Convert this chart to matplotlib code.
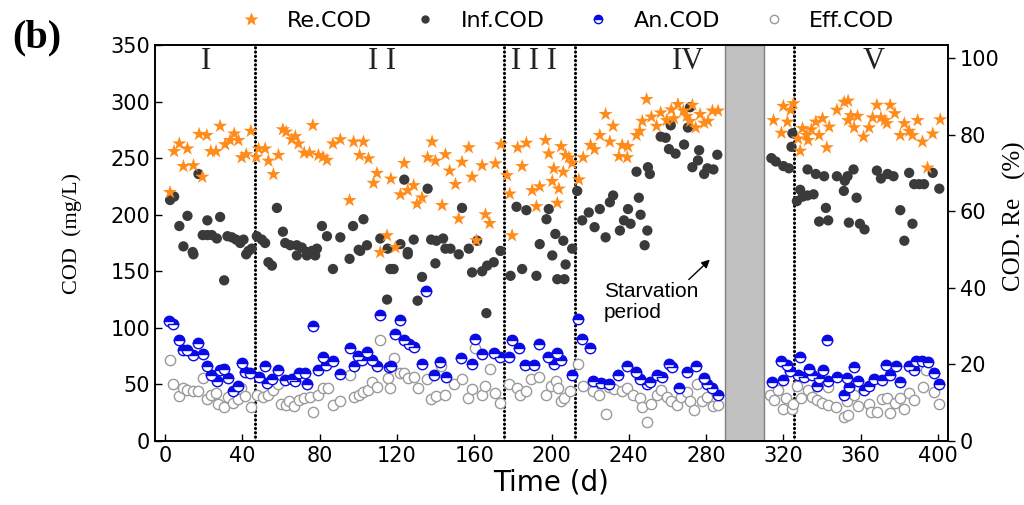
import numpy as np
import matplotlib
matplotlib.use("Agg")
import matplotlib.pyplot as plt
from matplotlib.lines import Line2D

# --- data ---
# Re.COD (%), right axis
re_day = [2.6, 4.7, 7.4, 9.5, 11.6, 14.7, 17.6, 19.3, 21.6, 23.7, 26.4, 28.5, 31.1, 33.7, 35.8,
          38.0, 39.7, 42.0, 44.4, 47.2, 48.4, 51.8, 53.5, 56.1, 58.7, 61.0, 62.7, 65.6, 67.4, 69.1,
          72.0, 74.8, 76.5, 79.4, 81.7, 83.8, 86.9, 90.7, 95.5, 97.6, 100.7, 102.7, 105.3, 107.9, 109.7,
          111.4, 114.9, 116.9, 119.2, 121.8, 123.8, 125.6, 128.7, 130.4, 133.0, 135.9, 138.2, 139.9, 143.4, 145.1,
          147.3, 150.3, 152.0, 153.7, 157.2, 158.9, 161.1, 164.1, 165.8, 168.0, 171.0, 173.9, 177.0, 178.4, 179.6,
          182.5, 184.8, 187.0, 190.0, 192.2, 193.9, 196.9, 198.6, 200.4, 201.2, 203.0, 203.8, 205.0, 206.1, 207.3,
          209.0, 210.7, 214.2, 216.4, 220.2, 222.3, 225.0, 228.0, 230.2, 231.9, 234.9, 236.6, 239.2, 239.6, 244.0,
          245.7, 247.0, 249.2, 251.7, 254.4, 256.5, 259.6, 262.0, 263.4, 265.4, 268.2, 270.0, 271.7, 272.9, 274.6,
          276.9, 279.0, 281.0, 283.3, 286.2, 314.9, 319.0, 320.0, 322.1, 323.8, 325.2, 327.6, 328.7, 329.9, 332.1,
          332.8, 334.5, 336.8, 338.5, 340.3, 342.5, 343.7, 347.7, 351.5, 353.5, 353.5, 354.9, 356.6, 358.4, 361.5,
          364.4, 366.2, 368.4, 370.5, 372.5, 373.6, 375.3, 377.7, 380.5, 382.6, 385.1, 386.8, 389.5, 392.0, 394.6,
          397.3, 401.2]
re_pct = [65.0, 75.7, 77.7, 71.8, 76.4, 72.0, 80.2, 69.0, 79.9, 75.7, 75.7, 82.3, 77.5, 78.6, 80.3,
          78.6, 74.1, 74.9, 81.0, 74.2, 76.4, 76.4, 73.2, 69.7, 74.7, 81.4, 80.8, 78.8, 79.6, 77.7,
          75.3, 75.3, 82.5, 74.7, 74.2, 73.4, 77.7, 78.8, 62.9, 78.2, 74.7, 78.2, 73.8, 67.4, 70.0,
          49.3, 53.7, 68.5, 50.6, 64.4, 72.6, 65.5, 66.8, 62.0, 63.6, 74.1, 78.2, 73.2, 61.6, 74.9,
          70.6, 67.1, 58.1, 72.9, 76.7, 69.0, 52.4, 72.0, 59.2, 56.9, 72.5, 77.5, 69.4, 64.6, 53.7,
          76.7, 71.8, 77.9, 65.5, 61.3, 66.5, 78.6, 75.1, 67.9, 71.2, 62.2, 65.9, 77.0, 70.3, 74.7,
          74.1, 72.6, 68.3, 74.1, 77.3, 76.2, 79.9, 85.4, 78.2, 82.3, 74.4, 77.3, 74.1, 77.0, 79.9,
          81.0, 83.6, 89.3, 84.7, 82.3, 85.8, 83.8, 86.6, 84.3, 88.0, 86.3, 84.9, 83.6, 87.8, 81.9,
          85.4, 83.1, 83.6, 86.3, 86.3, 83.8, 80.5, 87.5, 83.4, 86.5, 88.2, 79.0, 75.8, 81.7, 79.9,
          78.6, 81.4, 83.4, 79.9, 84.3, 76.7, 82.1, 86.5, 88.6, 88.9, 83.8, 85.1, 81.9, 84.9, 79.5,
          81.9, 84.5, 87.8, 84.5, 83.8, 83.0, 87.8, 85.6, 79.9, 83.0, 81.0, 79.9, 83.8, 78.2, 71.4,
          80.3, 84.0]

# Inf.COD (mg/L)
inf_day = [2.6, 4.7, 17.3, 7.4, 11.6, 9.5, 14.3, 19.5, 21.9, 21.9, 24.2, 26.8, 28.5, 32.3, 34.6,
           36.8, 38.9, 40.6, 43.2, 44.9, 47.5, 50.1, 51.8, 57.9, 61.0, 62.2, 64.8, 68.2, 70.8, 73.4,
           76.0, 78.6, 81.2, 83.8, 90.7, 97.3, 100.2, 102.7, 104.5, 111.4, 115.2, 121.8, 123.8, 125.6, 128.7,
           135.9, 137.7, 140.4, 145.1, 14.7, 30.6, 42.0, 53.5, 55.3, 68.2, 73.4, 77.7, 86.9, 95.5,
           101.0, 116.6, 118.3, 114.9, 133.0, 130.7, 125.6, 139.9, 153.7, 143.9, 147.7, 152.0, 157.2, 161.5, 173.6,
           181.9, 187.0, 197.4, 198.6, 193.9, 202.0, 206.1, 210.7, 213.3, 215.9, 219.3, 222.3, 225.0, 228.0, 230.2,
           231.9, 235.4, 237.5, 239.6, 240.9, 245.2, 246.1, 249.6, 248.2, 244.0, 249.9, 250.9, 256.5, 259.1, 261.7,
           260.8, 264.2, 268.6, 271.7, 270.6, 272.9, 276.4, 275.8, 279.0, 280.7, 283.8, 285.8, 158.9, 164.1, 166.7,
           170.1, 178.8, 184.8, 192.2, 203.0, 206.7, 166.3, 200.4, 207.3, 313.8, 316.1, 320.0, 322.9, 324.7, 324.2,
           328.7, 327.0, 330.0, 332.5, 335.6, 332.5, 336.8, 341.1, 342.0, 338.5, 343.2, 347.7, 351.8, 353.2, 356.3,
           351.3, 357.9, 353.9, 359.6, 362.0, 368.4, 370.5, 373.9, 377.0, 380.5, 382.6, 385.1, 387.7, 390.3, 392.8,
           386.8, 397.3, 400.7]
inf_cod = [213, 216, 236, 190, 199, 172, 167, 182, 195, 182, 182, 179, 198, 181, 180,
           178, 175, 178, 168, 170, 181, 178, 175, 206, 185, 175, 173, 173, 171, 167,
           168, 170, 190, 181, 180, 190, 169, 196, 173, 179, 170, 174, 231, 167, 178,
           223, 178, 177, 170, 165, 142, 165, 158, 155, 164, 164, 164, 152, 161,
           168, 152, 152, 125, 145, 124, 165, 157, 206, 179, 170, 165, 170, 177, 168,
           207, 204, 196, 205, 174, 183, 177, 170, 221, 195, 202, 189, 205, 180, 211,
           217, 186, 195, 205, 192, 215, 200, 186, 173, 238, 242, 236, 269, 268, 279,
           258, 254, 262, 295, 277, 242, 257, 248, 236, 241, 240, 253, 149, 150, 155,
           158, 146, 152, 146, 143, 143, 113, 164, 156, 250, 247, 243, 241, 272, 260,
           222, 212, 216, 217, 218, 240, 236, 234, 206, 194, 195, 234, 230, 234, 240,
           221, 215, 193, 192, 187, 239, 232, 236, 234, 204, 177, 237, 227, 227, 227,
           192, 237, 223]

# An.COD (mg/L)
an_day = [2.2, 4.3, 7.4, 9.2, 11.6, 14.3, 17.3, 19.5, 21.6, 23.7, 26.8, 28.5, 30.6, 32.8, 35.4,
          37.5, 39.7, 41.5, 44.0, 48.4, 51.8, 53.0, 55.3, 58.7, 62.2, 65.6, 67.4, 69.1, 72.5, 73.7,
          76.5, 79.4, 81.7, 83.4, 86.9, 90.7, 95.5, 97.6, 99.7, 101.9, 104.5, 107.1, 109.7, 111.0, 115.7,
          116.9, 119.2, 121.8, 123.8, 126.1, 128.7, 135.2, 133.0, 139.0, 142.5, 145.6, 153.2, 158.9, 160.6, 164.1,
          170.5, 173.3, 178.0, 179.6, 183.1, 186.5, 191.2, 193.4, 198.1, 203.0, 201.2, 204.7, 210.7, 213.6, 215.9,
          219.9, 221.6, 225.4, 229.7, 234.4, 239.2, 243.5, 245.7, 249.2, 250.9, 254.7, 257.3, 260.8, 262.5, 266.0,
          270.3, 274.6, 279.0, 280.7, 283.3, 286.2, 314.3, 320.0, 319.0, 322.1, 323.5, 328.7, 327.6, 330.7, 333.3,
          335.0, 337.2, 338.5, 340.3, 342.8, 343.2, 347.7, 352.8, 351.5, 354.1, 356.3, 358.4, 361.5, 364.4, 367.0,
          371.3, 373.1, 375.3, 378.2, 380.5, 385.1, 387.4, 388.6, 392.0, 394.9, 397.7, 400.7]
an_cod = [106, 103, 89, 80, 80, 76, 87, 77, 66, 58, 53, 63, 64, 56, 44,
          49, 69, 61, 60, 57, 66, 51, 55, 63, 54, 55, 53, 60, 60, 50,
          102, 63, 74, 67, 71, 59, 82, 66, 75, 72, 79, 72, 66, 111, 65,
          66, 95, 107, 89, 86, 83, 133, 68, 58, 70, 57, 73, 68, 90, 77,
          78, 74, 74, 89, 82, 67, 67, 86, 74, 78, 68, 72, 58, 108, 90,
          82, 53, 51, 50, 58, 66, 61, 55, 50, 52, 58, 57, 68, 65, 47,
          61, 66, 56, 50, 47, 41, 52, 54, 71, 67, 62, 74, 58, 57, 64,
          58, 49, 56, 63, 89, 53, 57, 56, 41, 48, 65, 53, 45, 49, 55,
          54, 67, 58, 66, 52, 66, 63, 71, 71, 70, 60, 50]

# Eff.COD (mg/L)
eff_day = [2.6, 4.3, 7.4, 9.5, 11.6, 14.3, 17.3, 19.5, 21.9, 23.7, 26.4, 27.6, 30.6, 32.8, 35.1,
           37.5, 39.2, 41.5, 44.4, 47.5, 50.9, 53.5, 55.8, 58.7, 59.9, 62.7, 64.4, 66.8, 69.1, 71.7,
           74.8, 76.5, 79.4, 82.0, 84.1, 86.9, 90.7, 95.5, 97.6, 100.2, 102.7, 104.8, 107.1, 111.0, 109.7,
           115.2, 116.6, 118.7, 121.5, 123.8, 125.6, 128.7, 130.7, 135.5, 137.6, 140.4, 142.8, 145.1, 149.7, 153.7,
           156.6, 158.9, 160.6, 164.1, 165.8, 168.0, 171.0, 173.6, 178.0, 182.2, 183.9, 187.0, 189.5, 193.4, 196.9,
           199.5, 202.1, 203.3, 205.1, 206.7, 209.5, 213.6, 216.4, 221.6, 224.5, 228.0, 229.7, 232.6, 236.6, 239.2,
           242.3, 245.7, 247.0, 249.2, 251.7, 254.4, 256.8, 259.6, 262.0, 265.1, 267.2, 270.0, 271.7, 273.5, 275.5,
           278.1, 280.7, 283.8, 286.2, 313.1, 315.2, 317.3, 320.0, 321.2, 324.7, 325.2, 327.2, 329.3, 332.5, 335.0,
           337.2, 340.2, 343.2, 343.2, 347.2, 351.5, 353.5, 352.8, 356.3, 358.4, 364.4, 365.6, 368.4, 371.3, 373.6,
           375.3, 377.7, 380.5, 382.6, 385.1, 387.7, 392.5, 393.8, 397.7, 400.7]
eff_cod = [72, 50, 40, 47, 45, 44, 44, 56, 37, 41, 42, 33, 30, 39, 34,
           37, 47, 40, 30, 41, 39, 41, 45, 50, 33, 32, 35, 31, 36, 38,
           39, 26, 41, 47, 47, 32, 35, 58, 39, 41, 43, 45, 52, 89, 48,
           56, 47, 73, 60, 60, 56, 57, 47, 55, 37, 40, 66, 41, 50, 55,
           38, 46, 82, 41, 49, 64, 42, 34, 50, 47, 41, 44, 55, 57, 41,
           49, 53, 47, 35, 38, 44, 68, 49, 44, 41, 24, 48, 46, 44, 47,
           41, 38, 30, 17, 33, 41, 45, 39, 35, 32, 39, 43, 35, 27, 50,
           35, 39, 31, 32, 41, 36, 45, 28, 38, 28, 33, 49, 38, 45, 39,
           36, 34, 48, 32, 30, 21, 23, 35, 41, 31, 33, 26, 26, 37, 38,
           25, 34, 38, 28, 42, 36, 48, 63, 43, 33]

phase_breaks = [46.6, 175.6, 212.0, 325.5]
phase_names = ["I", "I I", "I I I", "IV", "V"]
phase_label_day = [21, 112.5, 191, 270.5, 366.6]
starve_start, starve_end = 290, 310

C_RE = "#ff8c1a"
C_INF = "#3a3a3a"
C_AN = "#0a0ae6"
C_EFF = "#9a9a9a"

fig = plt.figure(figsize=(10.24, 5.05), dpi=100)
ax = fig.add_axes([155 / 1024, 1 - 441 / 505, 793 / 1024, 396 / 505])
ax2 = ax.twinx()

ax.axvspan(starve_start, starve_end, facecolor="#c0c0c0", edgecolor="#808080", lw=1, zorder=0)
for xb in phase_breaks:
    ax.axvline(xb, color="k", lw=2.2, linestyle=(0, (0.1, 1.3)), dash_capstyle="round", zorder=1)

ax.scatter(eff_day, eff_cod, s=55, facecolor="white", edgecolor=C_EFF, lw=1.0, zorder=2)
ax.plot(an_day, an_cod, linestyle="none", marker="o", ms=7.5, fillstyle="top",
        markerfacecolor=C_AN, markerfacecoloralt="white", markeredgecolor=C_AN, mew=1.0, zorder=3)
ax.scatter(inf_day, inf_cod, s=55, color=C_INF, edgecolor="none", zorder=4)
ax2.scatter(re_day, re_pct, s=115, marker="*", color=C_RE, edgecolor="none", zorder=5)

ax.set_xlim(-5.2, 405.2)
ax.set_ylim(0, 350)
ax2.set_ylim(0, 103.5)
ax.set_xticks(np.arange(0, 401, 40))
ax.set_yticks(np.arange(0, 351, 50))
ax2.set_yticks(np.arange(0, 101, 20))

ax.tick_params(direction="in", length=5, width=1, labelsize=15, top=False, right=False)
ax2.tick_params(direction="out", length=5, width=1, labelsize=15)
for a in (ax, ax2):
    for sp in a.spines.values():
        sp.set_linewidth(1.2)

for name, xd in zip(phase_names, phase_label_day):
    ax.text(xd, 335, name, ha="center", va="center", fontsize=22,
            family="Liberation Serif", color="#222222")

ax.text(227, 123, "Starvation\nperiod", ha="left", va="center", fontsize=15,
        family="Liberation Sans", linespacing=1.1)
ax.annotate("", xy=(283, 162), xytext=(270, 141),
            arrowprops=dict(arrowstyle="-|>", color="k", lw=1, mutation_scale=12))

ax.set_xlabel("Time (d)", fontsize=20, labelpad=2)
ax.set_ylabel("COD  (mg/L)", fontsize=16, family="Liberation Serif")
ax.yaxis.set_label_coords(-0.092, 0.525)
ax2.set_ylabel("COD. Re   (%)", fontsize=18, family="Liberation Serif")
ax2.yaxis.set_label_coords(1.069, 0.568)

fig.text(0.012, 0.925, "(b)", fontsize=29, fontweight="bold", family="Liberation Serif", va="center")

handles = [
    Line2D([], [], linestyle="none", marker="*", ms=10, color=C_RE, mec="none"),
    Line2D([], [], linestyle="none", marker="o", ms=6, color=C_INF, mec="none"),
    Line2D([], [], linestyle="none", marker="o", ms=6, fillstyle="top", markerfacecolor=C_AN,
           markerfacecoloralt="white", markeredgecolor=C_AN),
    Line2D([], [], linestyle="none", marker="o", ms=6, markerfacecolor="white", markeredgecolor=C_EFF),
]
fig.legend(handles, ["Re.COD", "Inf.COD", "An.COD", "Eff.COD"], loc="center", ncol=4,
           bbox_to_anchor=(0.553, 0.958), frameon=False, fontsize=16, handlelength=1.2,
           handletextpad=1.0, columnspacing=1.8)

fig.savefig("out.png", dpi=100)
